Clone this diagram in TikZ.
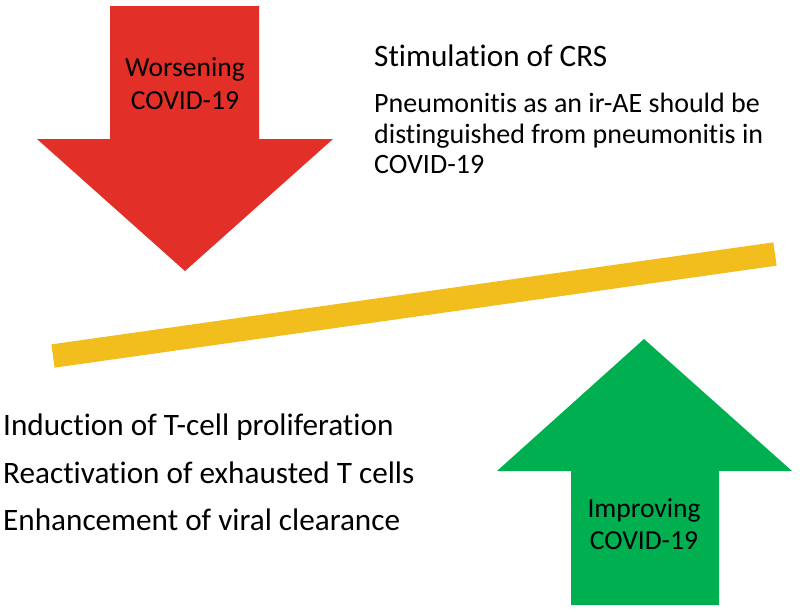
\documentclass[tikz,border=0pt]{standalone}
\usepackage{fontspec}
\setmainfont{Carlito}[Ligatures=NoCommon]
\definecolor{arrred}{RGB}{226,48,40}
\definecolor{arrgreen}{RGB}{0,176,80}
\definecolor{bargold}{RGB}{241,190,30}
\tikzset{
  lbl/.style={anchor=base, inner sep=0pt, text=black, font=\fontsize{27.5}{30}\selectfont},
  txt/.style={anchor=base west, inner sep=0pt, text=black},
  bigtxt/.style={txt, font=\fontsize{31.2}{34}\selectfont},
  midtxt/.style={txt, font=\fontsize{28}{30}\selectfont},
}
\begin{document}
\begin{tikzpicture}[x=1pt, y=-1pt]
\useasboundingbox (0,0) rectangle (800,611);
\fill[white] (0,0) rectangle (800,611);
% red down arrow
\fill[arrred] (110,6) -- (259,6) -- (259,139) -- (333,139) -- (185,271) -- (37,139) -- (110,139) -- cycle;
% green up arrow
\fill[arrgreen] (571,605) -- (719,605) -- (719,471) -- (792,471) -- (644,339) -- (497,471) -- (571,471) -- cycle;
% yellow balance bar
\coordinate (barL) at (53,356);
\coordinate (barR) at (775,254);
\draw[bargold, line width=23.5pt, line cap=butt] (barL) -- (barR);
% arrow labels
\node[lbl] (w1) at (185,76) {Worsening};
\node[lbl] (w2) at (185,109) {COVID-19};
\node[lbl] (i1) at (644,517) {Improving};
\node[lbl] (i2) at (644,549) {COVID-19};
% upper right text
\node[bigtxt] (crs) at (374,66) {Stimulation of CRS};
\node[midtxt] (p1) at (374,112) {Pneumonitis as an ir-AE should be};
\node[midtxt] (p2) at (374,143) {distinguished from pneumonitis in};
\node[midtxt] (p3) at (374,173) {COVID-19};
% lower left text
\node[bigtxt] (b1) at (3,435) {Induction of T-cell proliferation};
\node[bigtxt] (b2) at (3,483) {Reactivation of exhausted T cells};
\node[bigtxt] (b3) at (3,530) {Enhancement of viral clearance};
\end{tikzpicture}
\end{document}
